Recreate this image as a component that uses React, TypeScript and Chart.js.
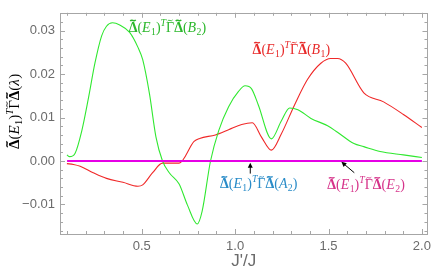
import React, { useEffect, useRef } from "react";
import { Chart, registerables } from "chart.js";
Chart.register(...registerables);

// ---- Data ----
const xB2 = [0.099, 0.113, 0.143, 0.179, 0.214, 0.249, 0.285, 0.311, 0.343, 0.382, 0.435, 0.479, 0.505, 0.541, 0.576, 0.611, 0.647, 0.7, 0.744, 0.797, 0.823, 0.868, 0.912, 0.965, 1.018, 1.053, 1.088, 1.124, 1.194, 1.247, 1.292, 1.336, 1.406, 1.495, 1.548, 1.636, 1.689, 1.776, 1.901, 2.0];
const yB2 = [0.0014, 0.001, 0.0018, 0.007, 0.0144, 0.0225, 0.0288, 0.031, 0.0318, 0.0313, 0.0296, 0.0262, 0.0233, 0.0155, 0.0055, 0.0, -0.0027, -0.0053, -0.0101, -0.0145, -0.0116, 0.0, 0.007, 0.0125, 0.016, 0.0173, 0.0166, 0.0129, 0.0051, 0.0092, 0.0122, 0.0118, 0.0098, 0.0081, 0.0066, 0.004, 0.0033, 0.0022, 0.0014, 0.0008];

const xB1 = [0.099, 0.134, 0.17, 0.24, 0.311, 0.399, 0.479, 0.505, 0.558, 0.611, 0.7, 0.78, 0.81, 0.894, 0.965, 1.035, 1.092, 1.141, 1.194, 1.247, 1.318, 1.388, 1.459, 1.512, 1.548, 1.592, 1.689, 1.795, 1.901, 2.0];
const yB1 = [-0.0006, -0.0008, -0.0012, -0.0027, -0.004, -0.0049, -0.0058, -0.0055, -0.0027, -0.0005, -0.0005, 0.0045, 0.0052, 0.006, 0.0072, 0.0084, 0.0088, 0.0055, 0.0025, 0.0062, 0.0129, 0.0188, 0.0225, 0.0236, 0.0236, 0.0225, 0.0157, 0.0136, 0.0107, 0.0077];

const xA2 = [0.1, 2.0];
const yA2 = [0, 0];
const xE2 = [0.1, 2.0];
const yE2 = [0, 0];

const xMajorTicks = [0.5, 1.0, 1.5, 2.0];
const xTickLabels = ["0.5", "1.0", "1.5", "2.0"];
const yMajorTicks = [-0.01, 0, 0.01, 0.02, 0.03];
const yTickLabels = ["\u22120.01", "0.00", "0.01", "0.02", "0.03"];
const xTitle = "J'/J";

const X_MIN = 0.062;
const X_MAX = 2.03;
const Y_MIN = -0.0168;
const Y_MAX = 0.0341;

type Seg = { t: string; f?: "b" | "i" | "r"; p?: "sub" | "sup"; tilde?: boolean };

function labelSegs(last: string, sub: string): Seg[] {
  const s: Seg[] = [
    { t: "\u0394", f: "b", tilde: true },
    { t: "(" },
    { t: "E", f: "i" },
    { t: "1", p: "sub" },
    { t: ")" },
    { t: "T", f: "i", p: "sup" },
    { t: "\u0393", tilde: true },
    { t: "\u0394", f: "b", tilde: true },
    { t: "(" },
    { t: last, f: "i" },
  ];
  if (sub) s.push({ t: sub, p: "sub" });
  s.push({ t: ")" });
  return s;
}

const FAM = "'Liberation Serif', 'DejaVu Serif', serif";

function fontFor(seg: Seg, size: number) {
  const sz = seg.p ? size * 0.7 : size;
  const style = seg.f === "i" ? "italic " : "";
  const weight = seg.f === "b" ? "bold " : "";
  return `${style}${weight}${sz}px ${FAM}`;
}

function drawRich(ctx: CanvasRenderingContext2D, segs: Seg[], cx: number, baseline: number, size: number, color: string) {
  let total = 0;
  const widths: number[] = [];
  for (const s of segs) {
    ctx.font = fontFor(s, size);
    const w = ctx.measureText(s.t).width + (s.f === "i" && !s.p ? size * 0.03 : 0);
    widths.push(w);
    total += w;
  }
  let x = cx - total / 2;
  ctx.fillStyle = color;
  ctx.strokeStyle = color;
  ctx.textAlign = "left";
  ctx.textBaseline = "alphabetic";
  segs.forEach((s, i) => {
    ctx.font = fontFor(s, size);
    let y = baseline;
    if (s.p === "sub") y += size * 0.22;
    if (s.p === "sup") y -= size * 0.42;
    ctx.fillText(s.t, x, y);
    if (s.tilde) {
      const w = widths[i] * 0.62;
      const c = x + widths[i] / 2;
      const ty = baseline - size * 0.8;
      const a = size * 0.07;
      ctx.beginPath();
      ctx.lineWidth = s.f === "b" ? 1.4 : 0.9;
      ctx.moveTo(c - w / 2, ty + a * 0.6);
      ctx.bezierCurveTo(c - w / 4, ty - a * 1.8, c + w / 4, ty + a * 1.8, c + w / 2, ty - a * 0.6);
      ctx.stroke();
    }
    x += widths[i];
  });
}

const annotations = [
  { segs: labelSegs("B", "2"), x: 0.637, y: 0.0309, color: "#2cb82c" },
  { segs: labelSegs("B", "1"), x: 1.301, y: 0.0258, color: "#e82a2a" },
  { segs: labelSegs("A", "2"), x: 1.126, y: -0.0051, color: "#2a8cc8" },
  { segs: labelSegs("E", "2"), x: 1.701, y: -0.0053, color: "#d6338a" },
];

const arrows = [
  { x0: 1.081, y0: -0.0029, x1: 1.081, y1: -0.0004 },
  { x0: 1.638, y0: -0.0027, x1: 1.569, y1: -0.0002 },
];

const decorPlugin = {
  id: "decor",
  afterDraw(chart: any) {
    const { ctx, chartArea: ca, scales } = chart;
    const xs = scales.x;
    const ys = scales.y;
    ctx.save();
    // frame
    ctx.strokeStyle = "#a6a6a6";
    ctx.lineWidth = 1;
    ctx.strokeRect(Math.round(ca.left) + 0.5, Math.round(ca.top) + 0.5, Math.round(ca.right - ca.left), Math.round(ca.bottom - ca.top));
    // ticks
    ctx.beginPath();
    for (let k = 1; k <= 20; k++) {
      const v = k / 10;
      const major = k % 5 === 0;
      const len = major ? 5 : 3;
      const px = Math.round(xs.getPixelForValue(v)) + 0.5;
      ctx.moveTo(px, ca.bottom);
      ctx.lineTo(px, ca.bottom - len);
      ctx.moveTo(px, ca.top);
      ctx.lineTo(px, ca.top + len);
    }
    for (let k = -8; k <= 17; k++) {
      const v = k * 0.002;
      const major = k % 5 === 0;
      const len = major ? 5 : 3;
      const py = Math.round(ys.getPixelForValue(v)) + 0.5;
      if (py < ca.top || py > ca.bottom) continue;
      ctx.moveTo(ca.left, py);
      ctx.lineTo(ca.left + len, py);
      ctx.moveTo(ca.right, py);
      ctx.lineTo(ca.right - len, py);
    }
    ctx.stroke();

    // annotations
    for (const a of annotations) {
      const cx = xs.getPixelForValue(a.x);
      const cy = ys.getPixelForValue(a.y);
      drawRich(ctx, a.segs, cx, cy + 5, 14, a.color);
    }
    // arrows
    ctx.strokeStyle = "#000";
    ctx.fillStyle = "#000";
    ctx.lineWidth = 1;
    for (const ar of arrows) {
      const x0 = xs.getPixelForValue(ar.x0), y0 = ys.getPixelForValue(ar.y0);
      const x1 = xs.getPixelForValue(ar.x1), y1 = ys.getPixelForValue(ar.y1);
      const ang = Math.atan2(y1 - y0, x1 - x0);
      ctx.beginPath();
      ctx.moveTo(x0, y0);
      ctx.lineTo(x1 - Math.cos(ang) * 3, y1 - Math.sin(ang) * 3);
      ctx.stroke();
      const hl = 5, hw = 2.5;
      ctx.beginPath();
      ctx.moveTo(x1, y1);
      ctx.lineTo(x1 - Math.cos(ang) * hl - Math.sin(ang) * hw, y1 - Math.sin(ang) * hl + Math.cos(ang) * hw);
      ctx.lineTo(x1 - Math.cos(ang) * hl + Math.sin(ang) * hw, y1 - Math.sin(ang) * hl - Math.cos(ang) * hw);
      ctx.closePath();
      ctx.fill();
    }
    // y title
    ctx.save();
    ctx.translate(19, (ca.top + ca.bottom) / 2 - 12);
    ctx.rotate(-Math.PI / 2);
    const ySegs: Seg[] = [
      { t: "\u0394", f: "b", tilde: true },
      { t: "(" },
      { t: "E", f: "i" },
      { t: "1", p: "sub" },
      { t: ")" },
      { t: "T", f: "i", p: "sup" },
      { t: "\u0393", tilde: true },
      { t: "\u0394", f: "b", tilde: true },
      { t: "(" },
      { t: "\u03bb", f: "i" },
      { t: ")" },
    ];
    drawRich(ctx, ySegs, 0, 0, 15, "#000");
    ctx.restore();
    // x title
    ctx.fillStyle = "#6b6b6b";
    ctx.font = "17px 'Liberation Sans', Arial, sans-serif";
    ctx.textAlign = "center";
    ctx.textBaseline = "middle";
    ctx.fillText(xTitle, (ca.left + ca.right) / 2, 261);
    ctx.restore();
  },
};

function pts(xa: number[], ya: number[]) {
  return xa.map((x, i) => ({ x, y: ya[i] }));
}

export default function App() {
  const ref = useRef<HTMLCanvasElement>(null);
  useEffect(() => {
    if (!ref.current) return;
    const tickFont = { family: "'Liberation Sans', Arial, sans-serif", size: 13 };
    const chart = new Chart(ref.current, {
      type: "line",
      data: {
        datasets: [
          { label: "E2", data: pts(xE2, yE2), borderColor: "#e600e6", borderWidth: 2, pointRadius: 0, tension: 0 },
          { label: "A2", data: pts(xA2, yA2), borderColor: "#2a8cc8", borderWidth: 0.6, pointRadius: 0, tension: 0 },
          { label: "B2", data: pts(xB2, yB2), borderColor: "#30e830", borderWidth: 1.1, pointRadius: 0, cubicInterpolationMode: "monotone" },
          { label: "B1", data: pts(xB1, yB1), borderColor: "#f02828", borderWidth: 1.1, pointRadius: 0, cubicInterpolationMode: "monotone" },
        ],
      },
      options: {
        responsive: false,
        animation: false,
        devicePixelRatio: 1,
        parsing: false as any,
        layout: { padding: { top: 5, right: 5, left: 0, bottom: 0 } },
        plugins: { legend: { display: false }, tooltip: { enabled: false }, title: { display: false } },
        scales: {
          x: {
            type: "linear",
            min: X_MIN,
            max: X_MAX,
            grid: { display: false, drawTicks: false },
            border: { display: false },
            afterFit: (s: any) => { s.height = 39; },
            afterBuildTicks: (s: any) => { s.ticks = xMajorTicks.map((v) => ({ value: v })); },
            ticks: {
              padding: 5,
              color: "#6b6b6b",
              font: tickFont,
              maxRotation: 0,
              autoSkip: false,
              callback: (v: any) => { const i = xMajorTicks.findIndex((t) => Math.abs(t - v) < 1e-9); return i >= 0 ? xTickLabels[i] : ""; },
            },
          },
          y: {
            type: "linear",
            min: Y_MIN,
            max: Y_MAX,
            grid: { display: false, drawTicks: false },
            border: { display: false },
            afterFit: (s: any) => { s.width = 60; },
            afterBuildTicks: (s: any) => { s.ticks = yMajorTicks.map((v) => ({ value: v })); },
            ticks: {
              padding: 5,
              color: "#6b6b6b",
              font: tickFont,
              autoSkip: false,
              callback: (v: any) => { const i = yMajorTicks.findIndex((t) => Math.abs(t - v) < 1e-9); return i >= 0 ? yTickLabels[i] : ""; },
            },
          },
        },
      },
      plugins: [decorPlugin],
    } as any);
    return () => chart.destroy();
  }, []);
  return (
    <div style={{ position: "absolute", left: 0, top: 0, width: 436, height: 273 }}>
      <canvas ref={ref} width={436} height={273} style={{ display: "block", width: 436, height: 273 }} />
    </div>
  );
}
